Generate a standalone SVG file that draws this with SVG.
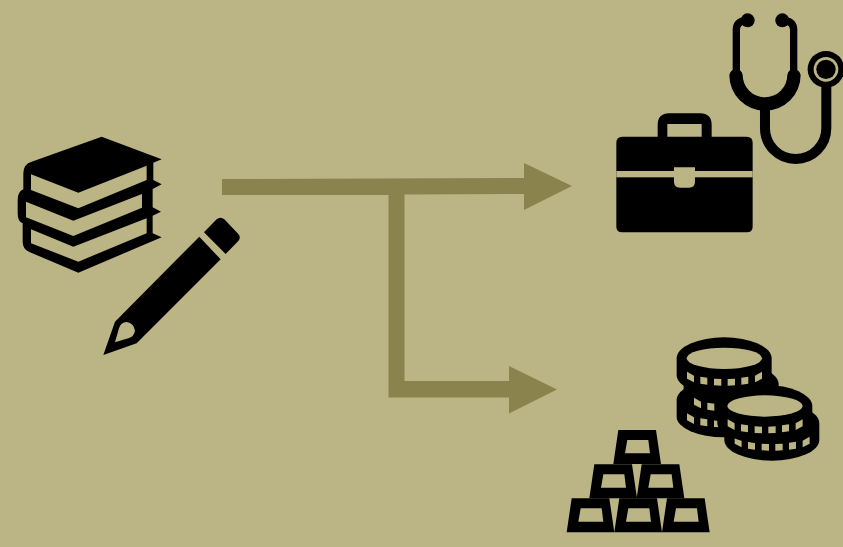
<svg xmlns="http://www.w3.org/2000/svg" width="843" height="547" viewBox="0 0 843 547">
<style>
.bg{fill:#bbb484}
.ink{fill:#000}
.cut{fill:#bbb484}
.line{fill:none;stroke:#000;stroke-linecap:round}
.tube{fill:none;stroke:#000;stroke-width:30}
.arrow{fill:#8a834d}
</style>
<defs>
<g id="coin">
<path class="ink" d="M350 85A142.500 63 0 0 1 635 85V135A142.500 62 0 0 1 350 135Z"/>
<g class="cut">
<polygon points="381,125 402,137 402,157 381,146"/>
<polygon points="421,140 442,143 442,164 421,161"/>
<polygon points="462,146 484,147 484,167 462,166"/>
<polygon points="503,147 525,146 525,166 503,167"/>
<polygon points="544,143 565,140 565,161 544,164"/>
<polygon points="585,137 606,125 606,146 585,157"/>
</g>
</g>
<path id="bar" fill-rule="evenodd" class="ink" d="M35 505H148L163 607H20ZM62 535L55 575H130L125 535Z"/>
</defs>
<rect class="bg" width="843" height="547"/>
<g id="connectors">
<polygon class="arrow" points="222,179 524,178 524,163 572,186 524,210 524,194 404.500,194.500 404.500,381 509,381 509,366 557,389.500 509,413.500 509,397.500 388.500,397.500 388.500,195 222,195"/>
</g>
<g id="books" transform="translate(0 120) scale(.3333)">
<path class="ink" fill-rule="evenodd" d="M305 50L485 118L460 128V180L485 193L458 207V262L483 275L458 287V340L485 352L235 458L88 396Q68 388 68 365V310Q53 305 53 280V240Q53 215 70 208V160Q70 132 95 125ZM93 163V210L235 265L440 180V137L235 218ZM78 245V292L220 348L426 263V222L220 302ZM93 328V370L235 425L440 340V295L220 380Z"/>
</g>
<g id="pencil" transform="translate(0 120) scale(.3333)">
<path class="ink" fill-rule="evenodd" d="M598 350L662 418L410 670L310 705L345 605ZM345 667L385 655Q402 650 405 632Q402 610 380 606Q362 607 357 625Z"/>
<path class="ink" d="M612 337L650 298Q661 288 673 298L715 342Q724 352 715 363L677 402Z"/>
</g>
<g id="stethoscope" transform="translate(600 0) scale(.3333)">
<circle class="ink" cx="443" cy="61" r="21"/>
<circle class="ink" cx="547" cy="61" r="21"/>
<path class="line" stroke-width="22" d="M435 62Q409 65 409 90V220"/>
<path class="line" stroke-width="22" d="M555 62Q581 65 581 90V220"/>
<path class="ink" d="M388 225Q392 208 408 208Q425 208 428 225A67 67 0 0 0 562 225Q565 208 582 208Q598 208 602 225A107 107 0 0 1 388 225Z"/>
<path class="tube" d="M495 320V385A92 92 0 0 0 679 385V250"/>
<circle class="ink" cx="678" cy="208" r="55"/>
<circle class="cut" cx="678" cy="208" r="37"/>
<circle class="ink" cx="678" cy="208" r="29"/>
</g>
<g id="briefcase" transform="translate(600 0) scale(.3333)">
<path class="ink" fill-rule="evenodd" d="M173 410V375Q173 340 208 340H300Q335 340 335 375V410H440Q458 410 458 428V680Q458 697 440 697H67Q49 697 49 680V428Q49 410 67 410ZM202 410H305V372H202Z"/>
<rect class="cut" x="49" y="513" width="409" height="19"/>
<path class="cut" d="M222 502H285V545Q285 563 267 563H240Q222 563 222 545Z"/>
</g>
<g id="coins" transform="translate(560 330) scale(.3333)">
<use href="#coin" transform="translate(0 125)"/>
<use href="#coin" transform="translate(21 78)"/>
<use href="#coin"/>
<ellipse class="cut" cx="493" cy="85" rx="113" ry="32"/>
<use href="#coin" transform="translate(143 195)"/>
<use href="#coin" transform="translate(122 143)"/>
<ellipse class="cut" cx="615" cy="228" rx="113" ry="32"/>
</g>
<g id="gold" transform="translate(560 330) scale(.3333)">
<use href="#bar"/>
<use href="#bar" transform="translate(143 0)"/>
<use href="#bar" transform="translate(286 0)"/>
<use href="#bar" transform="translate(68 -102)"/>
<use href="#bar" transform="translate(210 -102)"/>
<use href="#bar" transform="translate(140 -205)"/>
</g>
</svg>
